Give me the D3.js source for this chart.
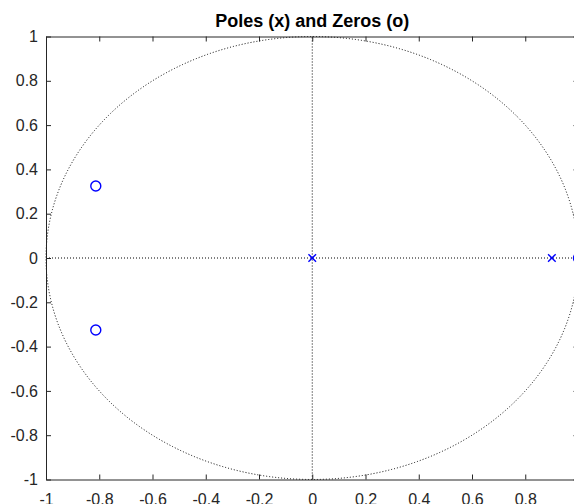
<!DOCTYPE html>
<html>
    <head>
        <title>
            Poles (x) and Zeros (o)
        </title>
        <meta charset="UTF-8">
        <script src="https://cdn.jsdelivr.net/npm/d3@7"></script>
        <style>
body {
    margin: 0;
    background: #fff;
}
text {
    font-family: "Liberation Sans", Arial, sans-serif;
}
        </style>
    </head>
	<body>
		<script>
// poles and zeros (real, imag)
var poles_re = [0, 0.9];
var poles_im = [0, 0];
var zeros_re = [-0.813, -0.813, 1];
var zeros_im = [0.325, -0.325, 0];
var x_ticks = [-1, -0.8, -0.6, -0.4, -0.2, 0, 0.2, 0.4, 0.6, 0.8, 1];
var y_ticks = [-1, -0.8, -0.6, -0.4, -0.2, 0, 0.2, 0.4, 0.6, 0.8, 1];
var title = "Poles (x) and Zeros (o)";

var W = 574, H = 504;
var svg, x, y;
var axis_color = "#262626";

function create_svg(){
    svg = d3.select("body")
                .append("svg")
                .attr("width", W)
                .attr("height", H);
    x = d3.scaleLinear().domain([-1, 1]).range([46, 578.5]);
    y = d3.scaleLinear().domain([-1, 1]).range([479.5, 36.5]);
    return svg;
}

function fmt(d){
    return String(d);   // plain hyphen like matlab
}

function draw_grid(){
    var g = svg.append("g")
               .attr("fill", "none")
               .attr("stroke", "#000")
               .attr("stroke-width", 1)
               .attr("stroke-dasharray", "1,2");
    // unit circle
    g.append("ellipse")
     .attr("cx", x(0))
     .attr("cy", y(0))
     .attr("rx", x(1) - x(0))
     .attr("ry", y(0) - y(1));
    // real / imag axes
    g.append("line")
     .attr("x1", x(-1)).attr("x2", x(1))
     .attr("y1", y(0)).attr("y2", y(0));
    g.append("line")
     .attr("x1", x(0)).attr("x2", x(0))
     .attr("y1", y(-1)).attr("y2", y(1));
}

function draw_axes(){
    var tick = 5;
    var bottom = svg.append("g")
                    .attr("transform", "translate(0," + y(-1) + ")")
                    .call(d3.axisBottom(x).tickValues(x_ticks).tickFormat(fmt)
                            .tickSizeInner(-tick).tickSizeOuter(0).tickPadding(14));
    var top = svg.append("g")
                 .attr("transform", "translate(0," + y(1) + ")")
                 .call(d3.axisTop(x).tickValues(x_ticks).tickFormat("")
                         .tickSizeInner(-tick).tickSizeOuter(0));
    var left = svg.append("g")
                  .attr("transform", "translate(" + x(-1) + ",0)")
                  .call(d3.axisLeft(y).tickValues(y_ticks).tickFormat(fmt)
                          .tickSizeInner(-tick).tickSizeOuter(0).tickPadding(8));
    var right = svg.append("g")
                   .attr("transform", "translate(" + x(1) + ",0)")
                   .call(d3.axisRight(y).tickValues(y_ticks).tickFormat("")
                           .tickSizeInner(-tick).tickSizeOuter(0));
    [bottom, top, left, right].forEach(function(a){
        a.selectAll("path, line").attr("stroke", axis_color);
        a.selectAll("text")
         .attr("fill", axis_color)
         .attr("font-size", 16)
         .attr("font-family", "'Liberation Sans', Arial, sans-serif");
    });
    bottom.selectAll("text").attr("dy", "0.71em");
}

function draw_marks(){
    var zeros = zeros_re.map(function(d, i){ return [d, zeros_im[i]]; });
    var poles = poles_re.map(function(d, i){ return [d, poles_im[i]]; });
    svg.selectAll("circle.zero")
       .data(zeros)
       .enter()
       .append("circle")
       .attr("class", "zero")
       .attr("cx", function(d){ return x(d[0]); })
       .attr("cy", function(d){ return y(d[1]); })
       .attr("r", 5)
       .attr("fill", "none")
       .attr("stroke", "#0000ff")
       .attr("stroke-width", 1.4);
    var s = 3.8;
    svg.selectAll("path.pole")
       .data(poles)
       .enter()
       .append("path")
       .attr("class", "pole")
       .attr("d", function(d){
           var cx = x(d[0]), cy = y(d[1]);
           return "M" + (cx - s) + "," + (cy - s) + "L" + (cx + s) + "," + (cy + s) +
                  "M" + (cx - s) + "," + (cy + s) + "L" + (cx + s) + "," + (cy - s);
       })
       .attr("fill", "none")
       .attr("stroke", "#0000ff")
       .attr("stroke-width", 1.4);
}

function draw_title(){
    svg.append("text")
       .attr("x", (x(-1) + x(1)) / 2)
       .attr("y", 27)
       .attr("text-anchor", "middle")
       .attr("font-size", 18)
       .attr("font-weight", "bold")
       .attr("fill", "#000")
       .text(title);
}

window.onload = function(){
    create_svg();
    draw_grid();
    draw_axes();
    draw_marks();
    draw_title();
}
		</script>
	</body>
</html>
